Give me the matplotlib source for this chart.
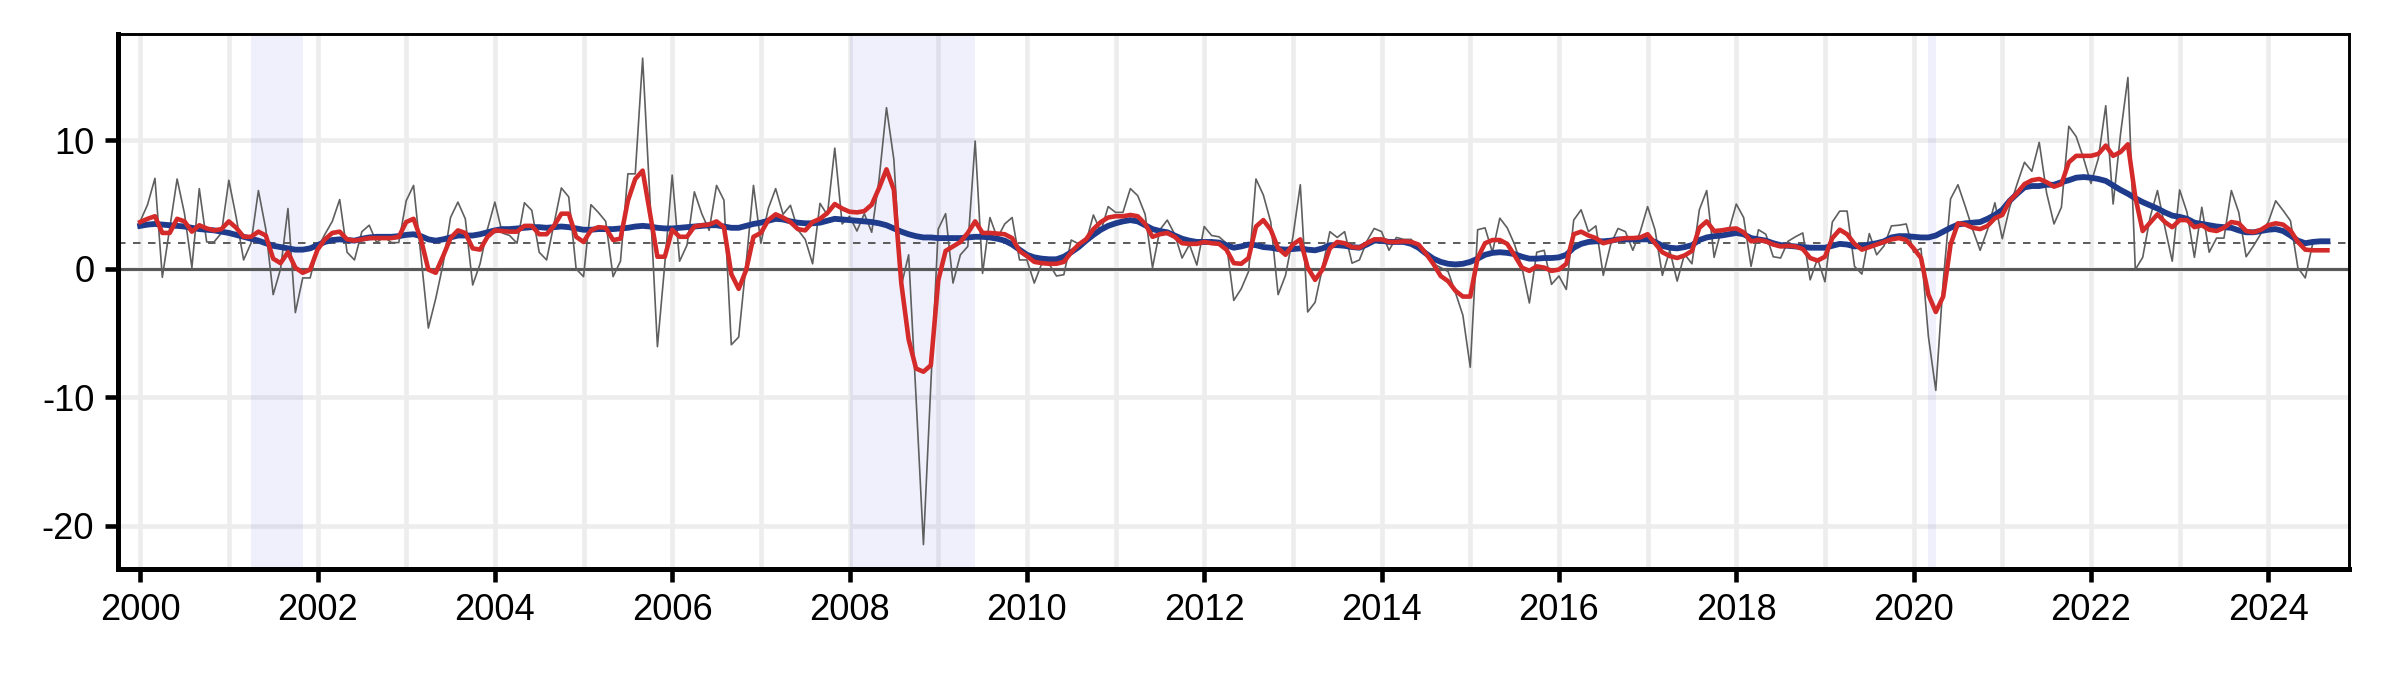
import numpy as np
import matplotlib
matplotlib.use('Agg')
import matplotlib.pyplot as plt
from matplotlib.ticker import MultipleLocator

plt.rcParams['font.family'] = ['Liberation Sans', 'DejaVu Sans']
plt.rcParams['axes.unicode_minus'] = False

# monthly values, Jan 2000 onward
monthly = [
    3.7, 5.0, 7.05, -0.65, 3.2, 7.0, 4.3, 0.1, 6.25, 2.1, 2.1, 2.8,
    6.9, 4.0, 0.7, 2.0, 6.1, 3.1, -2.0, 0.0, 4.7, -3.4, -0.7, -0.7,
    1.6, 2.7, 3.7, 5.4, 1.3, 0.7, 2.9, 3.4, 2.05, 2.5, 2.05, 2.05,
    5.3, 6.5, 1.0, -4.6, -2.3, 0.4, 4.0, 5.2, 3.9, -1.25, 0.4, 3.1,
    5.2, 2.8, 2.6, 2.0, 5.15, 4.55, 1.3, 0.7, 3.5, 6.3, 5.6, 0.0,
    -0.6, 5.0, 4.4, 3.7, -0.6, 0.6, 7.4, 7.4, 16.4, 5.3, -6.05, 0.4,
    7.3, 0.6, 1.85, 6.0, 4.3, 3.0, 6.5, 5.35, -5.9, -5.3, 0.4, 6.5,
    2.0, 4.7, 6.25, 4.25, 4.95, 3.05, 2.3, 0.4, 5.1, 4.2, 9.4, 3.5,
    4.1, 2.95, 4.3, 2.85, 7.0, 12.55, 8.5, -1.3, 1.1, -10.0, -21.45, -9.0,
    3.1, 4.3, -1.1, 1.1, 1.75, 9.95, -0.35, 4.0, 2.4, 3.5, 4.0, 0.7,
    0.7, -1.1, 0.4, 0.4, -0.55, -0.45, 2.25, 1.95, 2.1, 4.2, 2.9, 4.85,
    4.4, 4.4, 6.25, 5.7, 4.25, 0.1, 3.05, 3.8, 2.7, 0.85, 1.9, 0.3,
    3.3, 2.6, 2.5, 2.0, -2.45, -1.55, -0.2, 7.0, 5.75, 3.65, -2.0, -0.5,
    2.5, 6.55, -3.35, -2.6, 0.1, 2.9, 2.45, 2.9, 0.45, 0.7, 2.15, 3.15,
    2.9, 1.45, 2.45, 2.3, 2.3, 1.7, 1.15, 0.4, 0.1, -0.2, -1.85, -3.6,
    -7.65, 3.05, 3.2, 1.3, 3.95, 3.2, 1.9, 0.1, -2.65, 1.3, 1.45, -1.2,
    -0.55, -1.6, 3.8, 4.6, 2.9, 3.35, -0.5, 1.9, 3.15, 2.9, 1.45, 2.9,
    4.85, 3.05, -0.5, 1.45, -0.95, 1.15, 0.4, 4.6, 6.1, 0.9, 3.1, 3.0,
    5.05, 4.0, 0.2, 3.05, 2.7, 0.95, 0.85, 2.15, 2.5, 2.8, -0.85, 0.8,
    -1.0, 3.65, 4.5, 4.5, 0.2, -0.4, 2.75, 1.1, 1.8, 3.35, 3.4, 3.5,
    1.3, 1.6, -5.25, -9.45, -1.0, 5.45, 6.55, 4.85, 3.05, 1.45, 3.05, 5.15,
    2.35, 4.8, 6.6, 8.3, 7.6, 9.85, 5.9, 3.5, 4.8, 11.1, 10.3, 8.6,
    6.65, 8.6, 12.7, 5.05, 10.5, 14.9, -0.05, 0.9, 4.0, 6.1, 3.25, 0.6,
    6.15, 4.4, 0.9, 4.8, 1.3, 2.4, 2.4, 6.1, 4.4, 0.95, 1.8, 2.75,
    3.65, 5.3, 4.55, 3.75, 0.1, -0.7, 1.95,
]

three_month = [
    3.65, 3.9, 4.1, 2.8, 2.8, 3.9, 3.7, 2.9, 3.4, 3.15, 3.0, 3.1,
    3.7, 3.2, 2.5, 2.5, 2.9, 2.6, 0.8, 0.45, 1.3, 0.1, -0.3, -0.05,
    1.5, 2.3, 2.8, 2.9, 2.3, 2.2, 2.3, 2.4, 2.4, 2.4, 2.4, 2.5,
    3.65, 3.9, 2.3, -0.05, -0.3, 1.0, 2.4, 3.0, 2.8, 1.6, 1.5, 2.5,
    3.0, 2.95, 2.9, 2.9, 3.35, 3.35, 2.7, 2.7, 3.35, 4.3, 4.3, 2.5,
    2.1, 3.0, 3.25, 3.2, 2.25, 2.35, 5.3, 7.0, 7.65, 4.3, 0.95, 0.95,
    3.05, 2.5, 2.5, 3.3, 3.4, 3.45, 3.7, 3.25, -0.4, -1.55, -0.1, 2.5,
    2.8, 3.8, 4.25, 4.0, 3.65, 3.1, 3.0, 3.65, 3.9, 4.35, 5.05, 4.7,
    4.45, 4.4, 4.5, 5.0, 6.3, 7.75, 6.15, -1.1, -5.5, -7.75, -8.0, -7.5,
    -0.9, 1.4, 1.75, 2.1, 2.8, 3.7, 2.8, 2.8, 2.75, 2.7, 2.4, 1.4,
    1.0, 0.55, 0.45, 0.4, 0.4, 0.55, 1.3, 1.9, 2.3, 3.1, 3.65, 4.0,
    4.1, 4.1, 4.2, 4.1, 3.5, 2.5, 2.7, 2.8, 2.5, 2.0, 1.95, 1.95,
    2.1, 2.0, 1.95, 1.5, 0.45, 0.4, 0.85, 3.3, 3.8, 3.05, 1.6, 1.1,
    1.9, 2.3, 0.1, -0.85, -0.05, 1.6, 2.1, 2.0, 1.7, 1.65, 2.0, 2.3,
    2.3, 2.1, 2.1, 2.15, 2.1, 1.9, 1.2, 0.4, -0.55, -0.95, -1.7, -2.15,
    -2.15, 0.85, 2.0, 2.25, 2.25, 1.95, 1.05, 0.1, -0.15, 0.2, 0.1, -0.15,
    -0.05, 0.4, 2.7, 2.9, 2.6, 2.4, 2.0, 2.15, 2.3, 2.4, 2.4, 2.45,
    2.7, 2.0, 1.3, 1.0, 0.85, 1.05, 1.4, 3.2, 3.7, 2.95, 3.0, 3.1,
    3.15, 2.85, 2.15, 2.25, 2.15, 1.9, 1.75, 1.8, 1.75, 1.55, 0.85, 0.65,
    0.95, 2.4, 3.05, 2.7, 1.95, 1.5, 1.7, 1.9, 2.1, 2.3, 2.4, 2.25,
    1.6, 0.85, -2.0, -3.35, -2.15, 1.9, 3.55, 3.45, 3.2, 3.1, 3.35, 3.95,
    4.2, 5.3, 5.9, 6.6, 6.9, 7.0, 6.75, 6.4, 6.6, 8.3, 8.8, 8.8,
    8.8, 8.95, 9.6, 8.8, 9.1, 9.7, 5.6, 2.95, 3.6, 4.25, 3.65, 3.25,
    3.8, 3.8, 3.25, 3.4, 3.05, 2.95, 3.2, 3.65, 3.55, 2.95, 2.85, 3.05,
    3.4, 3.55, 3.45, 3.0, 2.1, 1.5, 1.45, 1.45, 1.45,
]

twelve_month = [
    3.35, 3.45, 3.5, 3.45, 3.4, 3.35, 3.3, 3.2, 3.1, 3.05, 3.0, 2.9,
    2.8, 2.65, 2.5, 2.35, 2.2, 2.0, 1.8, 1.7, 1.6, 1.5, 1.5, 1.6,
    1.85, 2.1, 2.25, 2.3, 2.25, 2.2, 2.35, 2.45, 2.5, 2.5, 2.5, 2.55,
    2.65, 2.7, 2.55, 2.3, 2.2, 2.3, 2.45, 2.6, 2.6, 2.6, 2.7, 2.85,
    3.0, 3.1, 3.1, 3.15, 3.2, 3.25, 3.25, 3.2, 3.25, 3.3, 3.25, 3.15,
    3.05, 3.05, 3.1, 3.1, 3.1, 3.15, 3.2, 3.3, 3.35, 3.3, 3.2, 3.15,
    3.15, 3.2, 3.25, 3.3, 3.35, 3.4, 3.4, 3.3, 3.2, 3.2, 3.35, 3.5,
    3.6, 3.75, 3.9, 3.85, 3.7, 3.6, 3.55, 3.55, 3.6, 3.75, 3.9, 3.85,
    3.8, 3.75, 3.7, 3.65, 3.55, 3.4, 3.15, 2.9, 2.7, 2.55, 2.45, 2.45,
    2.4, 2.4, 2.4, 2.4, 2.45, 2.5, 2.5, 2.45, 2.35, 2.2, 1.9, 1.5,
    1.1, 0.9, 0.8, 0.75, 0.75, 0.95, 1.3, 1.7, 2.2, 2.65, 3.05, 3.35,
    3.55, 3.7, 3.8, 3.7, 3.4, 3.1, 2.95, 2.85, 2.6, 2.35, 2.2, 2.1,
    2.1, 2.1, 2.05, 1.85, 1.65, 1.75, 1.9, 1.85, 1.7, 1.65, 1.55, 1.5,
    1.55, 1.6, 1.5, 1.45, 1.6, 1.85, 1.85, 1.8, 1.7, 1.65, 1.9, 2.2,
    2.2, 2.1, 2.1, 2.1, 1.95, 1.65, 1.2, 0.8, 0.55, 0.4, 0.35, 0.4,
    0.55, 0.8, 1.1, 1.25, 1.3, 1.25, 1.15, 0.95, 0.8, 0.8, 0.85, 0.85,
    0.9, 1.1, 1.65, 1.95, 2.1, 2.15, 2.15, 2.2, 2.3, 2.3, 2.3, 2.3,
    2.3, 2.1, 1.8, 1.65, 1.6, 1.7, 1.85, 2.25, 2.45, 2.55, 2.6, 2.7,
    2.8, 2.7, 2.4, 2.3, 2.2, 2.0, 1.85, 1.8, 1.75, 1.7, 1.65, 1.65,
    1.65, 1.8, 1.95, 1.9, 1.75, 1.8, 1.9, 2.0, 2.15, 2.45, 2.55, 2.55,
    2.5, 2.45, 2.45, 2.6, 2.9, 3.2, 3.45, 3.55, 3.6, 3.65, 3.9, 4.2,
    4.6, 5.3, 5.85, 6.35, 6.45, 6.45, 6.55, 6.55, 6.75, 6.9, 7.1, 7.15,
    7.1, 7.0, 6.85, 6.5, 6.15, 5.85, 5.5, 5.2, 4.95, 4.7, 4.4, 4.15,
    4.05, 3.9, 3.6, 3.5, 3.4, 3.3, 3.25, 3.2, 3.0, 2.85, 2.85, 2.95,
    3.05, 3.1, 2.95, 2.6, 2.2, 2.0, 2.1, 2.15, 2.15,
]

recessions = [(2001.25, 2001.833), (2008.0, 2009.417), (2020.167, 2020.25)]
target = 2.0

t_monthly = 2000 + np.arange(len(monthly)) / 12
t_smooth = 2000 + np.arange(len(three_month)) / 12

fig = plt.figure(figsize=(2392 / 300, 697 / 300), dpi=300)
ax = fig.add_axes([118 / 2392, 1 - 569 / 697, (2349 - 118) / 2392, (569 - 34.4) / 697])

# grid, one line per year
ax.xaxis.set_major_locator(MultipleLocator(2))
ax.xaxis.set_minor_locator(MultipleLocator(1))
ax.yaxis.set_major_locator(MultipleLocator(10))
ax.grid(which='both', axis='x', color='#ededed', lw=1.1, zorder=0)
ax.grid(which='major', axis='y', color='#ededed', lw=1.1, zorder=0)
ax.set_axisbelow(True)

for a, b in recessions:
    ax.axvspan(a, b, color=(0.0, 0.0, 0.9), alpha=0.06, lw=0, zorder=1)

ax.axhline(0, color='#555555', lw=0.7, zorder=2)
ax.axhline(target, color='#555555', lw=0.45, ls=(0, (4, 4)), zorder=2)

ax.plot(t_monthly, monthly, color='#5f5f5f', lw=0.4, zorder=3)
ax.plot(t_smooth, twelve_month, color='#1f3b8c', lw=1.4, zorder=4)
ax.plot(t_smooth, three_month, color='#d42a2a', lw=1.1, zorder=5)

ax.set_xlim(1999.75, 2024.91)
ax.set_ylim(-23.35, 18.25)

for side in ['left', 'bottom']:
    ax.spines[side].set_linewidth(1.2)
for side in ['top', 'right']:
    ax.spines[side].set_linewidth(0.7)

ax.tick_params(which='major', length=3.2, width=1.1, labelsize=8.7, pad=2.5)
ax.tick_params(which='minor', length=0)
ax.set_xticks(np.arange(2000, 2025, 2))
ax.set_xticklabels([str(y) for y in range(2000, 2025, 2)])
ax.set_yticks([-20, -10, 0, 10])
ax.set_yticklabels(['-20', '-10', '0', '10'])

fig.savefig('out.png', dpi=300)
